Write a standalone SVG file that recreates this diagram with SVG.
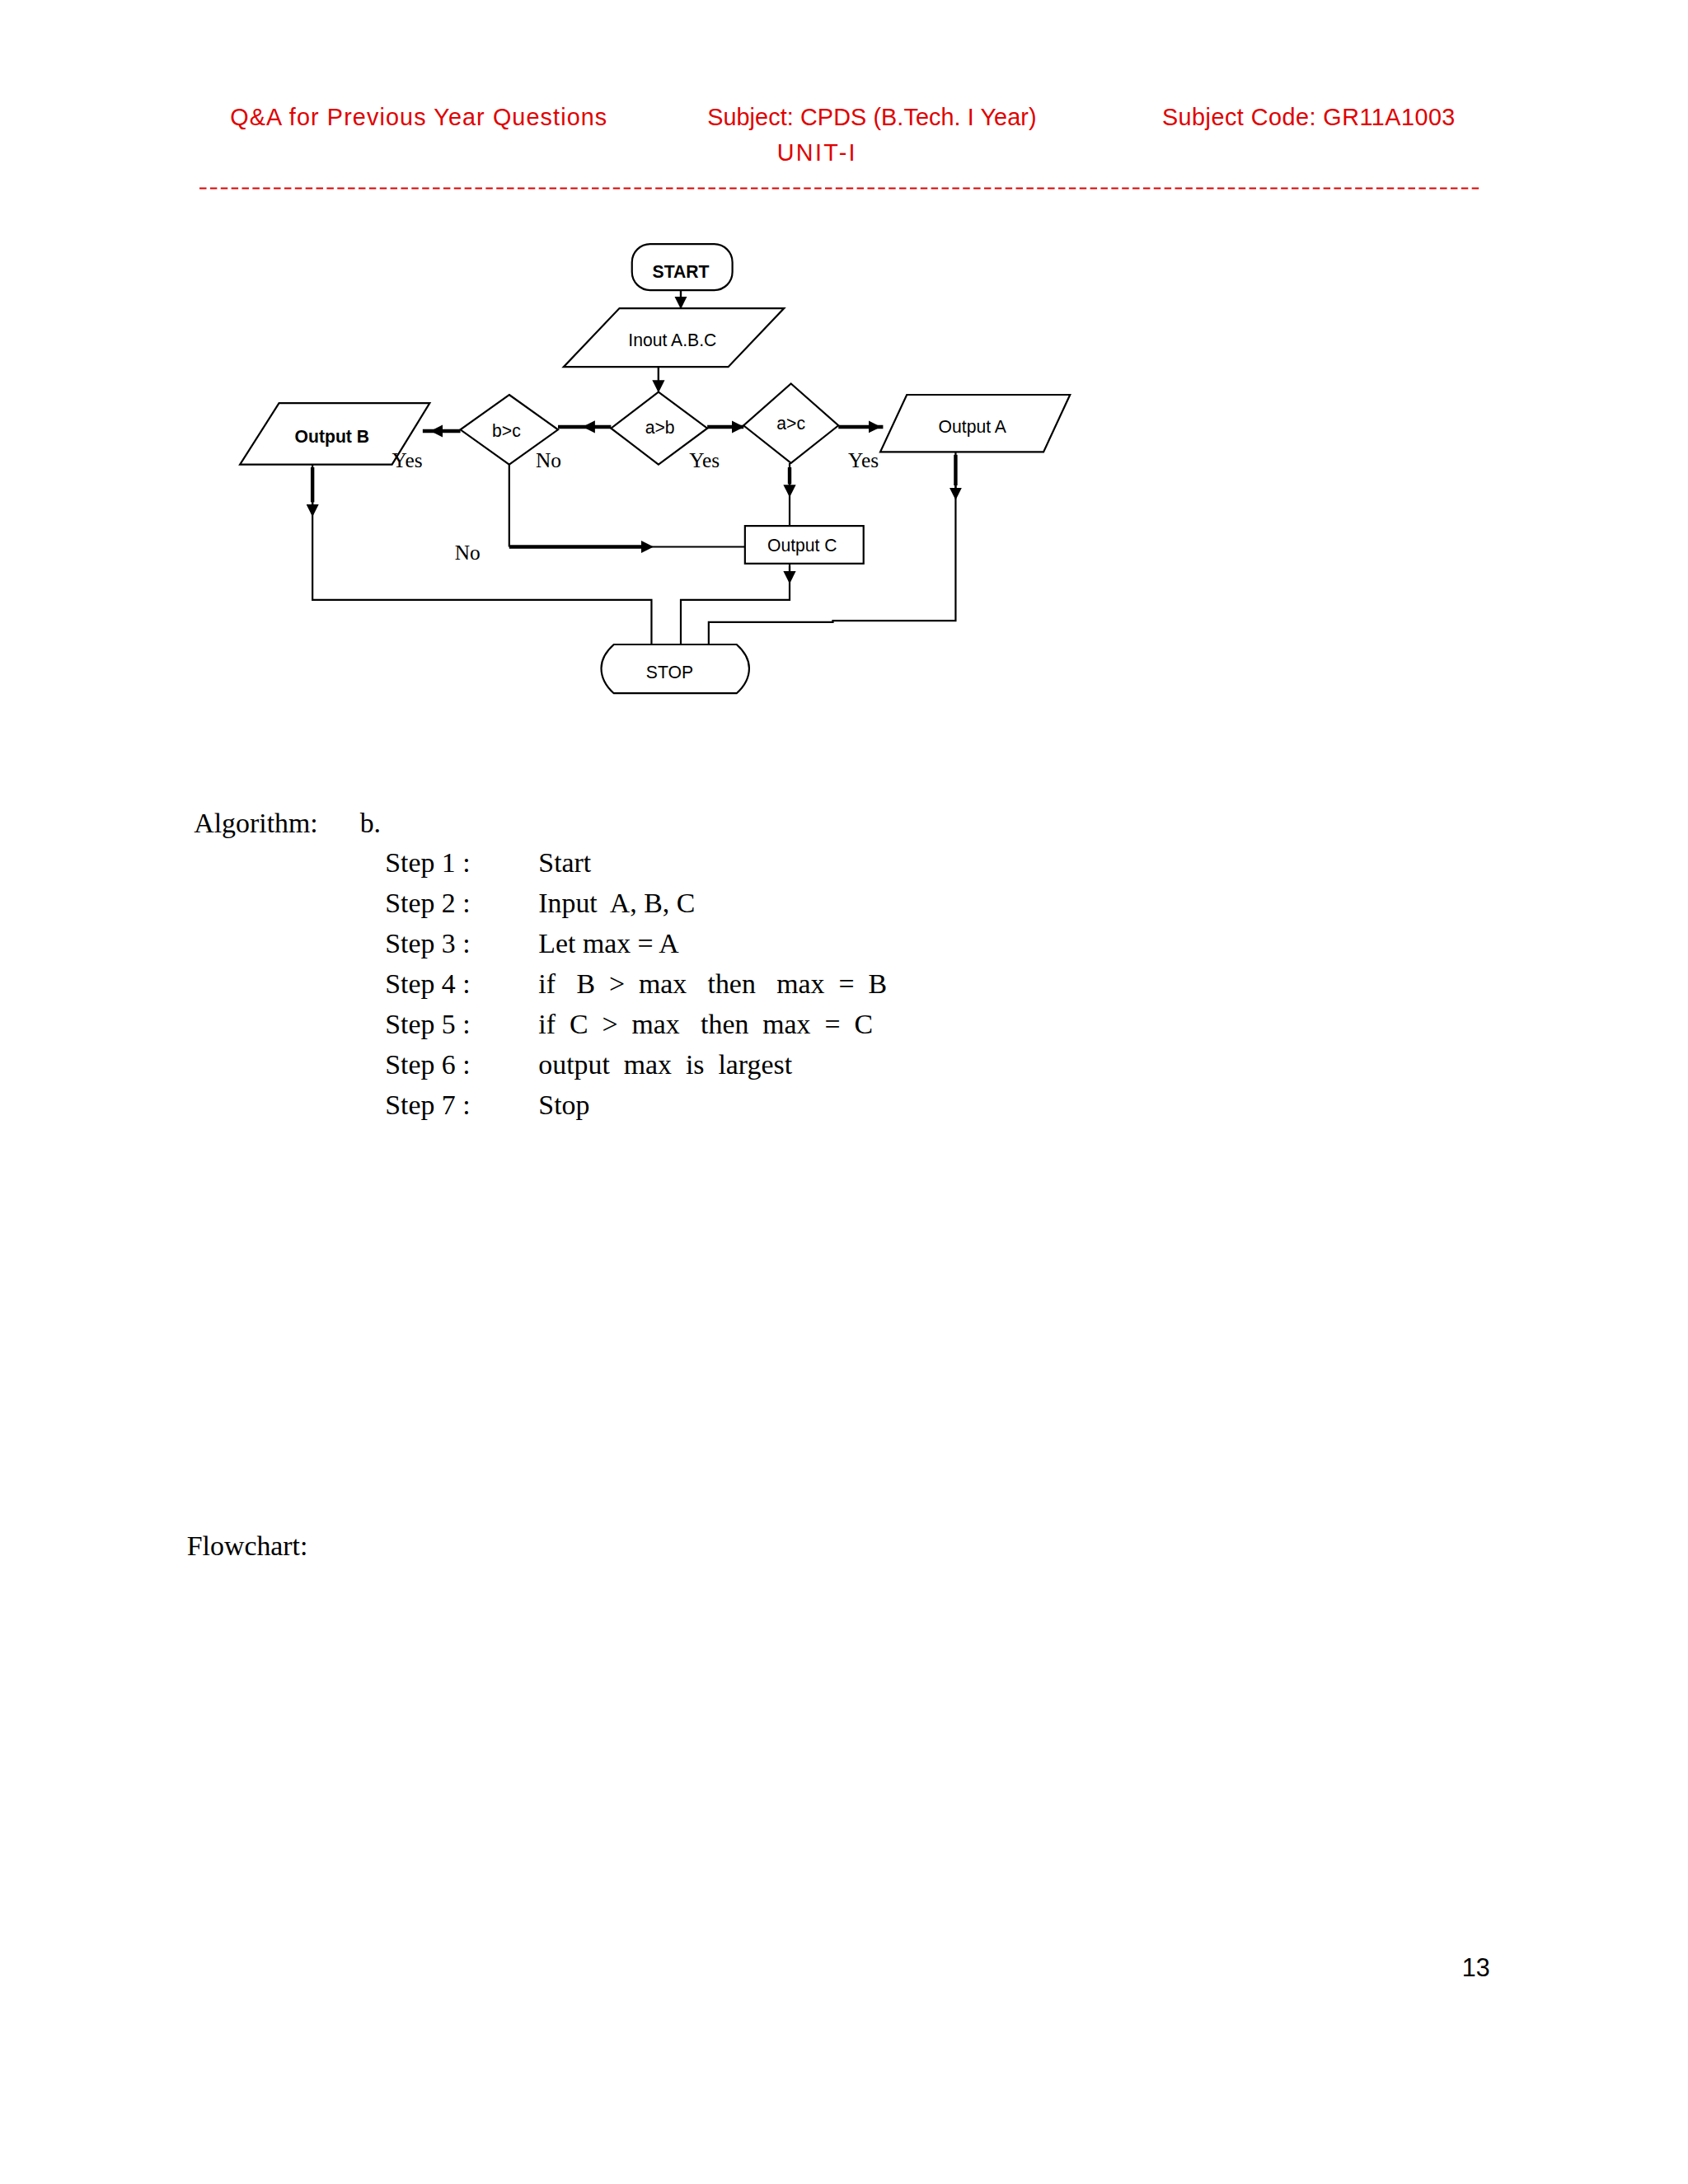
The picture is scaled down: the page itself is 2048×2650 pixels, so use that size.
<svg xmlns="http://www.w3.org/2000/svg" width="2048" height="2650" viewBox="0 0 2048 2650">
<style>
.hd{font-family:"Liberation Sans",Arial,sans-serif;font-size:17px;fill:#e00000}
.sh{fill:#fff;stroke:#000;stroke-width:1.3}
.ln{fill:none;stroke:#000;stroke-width:1.3}
.tk{fill:none;stroke:#000;stroke-width:2.6}
.nt{font-family:"Liberation Sans",Arial,sans-serif;font-size:12.5px;text-anchor:middle}
.lb{font-family:"Liberation Serif","Times New Roman",serif;font-size:15px}
.al{font-family:"Liberation Serif","Times New Roman",serif;font-size:20px;white-space:pre}
</style>
<defs>
<marker id="ah" viewBox="0 0 10 10" refX="5" refY="5" markerWidth="9" markerHeight="9" markerUnits="userSpaceOnUse" orient="auto"><path d="M0,0L10,5L0,10z" fill="#000"/></marker>
</defs>
<rect width="2048" height="2650" fill="#fff"/>
<g transform="scale(1.6926)">
<g id="header">
<text class="hd" x="165" y="90" textLength="270">Q&amp;A  for Previous Year Questions</text>
<text class="hd" x="507" y="90" textLength="236">Subject: CPDS (B.Tech. I Year)</text>
<text class="hd" x="557" y="115" textLength="56">UNIT-I</text>
<text class="hd" x="833" y="90" textLength="210">Subject Code: GR11A1003</text>
<line x1="143" y1="135" x2="1062" y2="135" stroke="#e00000" stroke-width="1.2" stroke-dasharray="5,2.6"/>
</g>
<g id="connectors">
<path class="ln" d="M488,208V221"/><path class="ln" d="M488,208V217" marker-end="url(#ah)"/>
<path class="ln" d="M472,263V281"/><path class="ln" d="M472,263V277" marker-end="url(#ah)"/>
<path class="tk" d="M438,306H400"/><path class="ln" d="M430,306H422" marker-end="url(#ah)"/>
<path class="tk" d="M330,309H303"/><path class="ln" d="M322,309H313" marker-end="url(#ah)"/>
<path class="tk" d="M507,306H533"/><path class="ln" d="M520,306H529" marker-end="url(#ah)"/>
<path class="tk" d="M601,306H633"/><path class="ln" d="M618,306H627" marker-end="url(#ah)"/>
<path class="ln" d="M566,332V377"/><path class="tk" d="M566,335V347"/><path class="ln" d="M566,345V352" marker-end="url(#ah)"/>
<path class="ln" d="M365,333V392"/><path class="tk" d="M365,392H462"/><path class="ln" d="M462,392H534"/><path class="ln" d="M455,392H464" marker-end="url(#ah)"/>
<path class="ln" d="M224,333V430H467V462"/><path class="tk" d="M224,335V360"/><path class="ln" d="M224,358V366" marker-end="url(#ah)"/>
<path class="ln" d="M566,404V430H488V462"/><path class="ln" d="M566,406V414" marker-end="url(#ah)"/>
<path class="ln" d="M685,324V445H597V446H508V462"/><path class="tk" d="M685,326V348"/><path class="ln" d="M685,346V354" marker-end="url(#ah)"/>
</g>
<g id="start"><rect class="sh" x="453" y="175" width="72" height="33" rx="13"/><text class="nt" x="488" y="199" font-weight="bold">START</text></g>
<g id="input"><path class="sh" d="M444,221H562L522,263H404Z"/><text class="nt" x="482" y="248">Inout A.B.C</text></g>
<g id="ab"><path class="sh" d="M472,281L507,307L472,333L438,307Z"/><text class="nt" x="473" y="311">a&gt;b</text></g>
<g id="bc"><path class="sh" d="M365,283L400,308L365,333L330,308Z"/><text class="nt" x="363" y="313">b&gt;c</text></g>
<g id="ac"><path class="sh" d="M567,275L601,305L567,332L533,305Z"/><text class="nt" x="567" y="308">a&gt;c</text></g>
<g id="outb"><path class="sh" d="M200,289H308L281,333H172Z"/><text class="nt" x="238" y="317" font-weight="bold">Output B</text></g>
<g id="outa"><path class="sh" d="M650,283H767L748,324H631Z"/><text class="nt" x="697" y="310">Output A</text></g>
<g id="outc"><rect class="sh" x="534" y="377" width="85" height="27"/><text class="nt" x="575" y="395">Output C</text></g>
<g id="stop"><path class="sh" d="M440,462H528Q537,470,537,479Q537,489,528,497H440Q431,489,431,479Q431,470,440,462Z"/><text class="nt" x="480" y="486">STOP</text></g>
<g id="labels">
<text class="lb" x="281" y="335">Yes</text><text class="lb" x="384" y="335">No</text>
<text class="lb" x="494" y="335">Yes</text><text class="lb" x="608" y="335">Yes</text>
<text class="lb" x="326" y="401">No</text>
</g>
<g id="algorithm">
<text class="al" x="139" y="597">Algorithm:</text><text class="al" x="258" y="597">b.</text>
<text class="al" x="276" y="625">Step 1 :</text><text class="al" x="386" y="625">Start</text>
<text class="al" x="276" y="654">Step 2 :</text><text class="al" x="386" y="654">Input  A, B, C</text>
<text class="al" x="276" y="683">Step 3 :</text><text class="al" x="386" y="683">Let max = A</text>
<text class="al" x="276" y="712">Step 4 :</text><text class="al" x="386" y="712">if   B  &gt;  max   then   max  =  B</text>
<text class="al" x="276" y="741">Step 5 :</text><text class="al" x="386" y="741">if  C  &gt;  max   then  max  =  C</text>
<text class="al" x="276" y="770">Step 6 :</text><text class="al" x="386" y="770">output  max  is  largest</text>
<text class="al" x="276" y="799">Step 7 :</text><text class="al" x="386" y="799">Stop</text>
<text class="al" x="134" y="1115">Flowchart:</text>
<text x="1048" y="1417" font-family="Liberation Sans,Arial,sans-serif" font-size="18">13</text>
</g>
</g>
</svg>
